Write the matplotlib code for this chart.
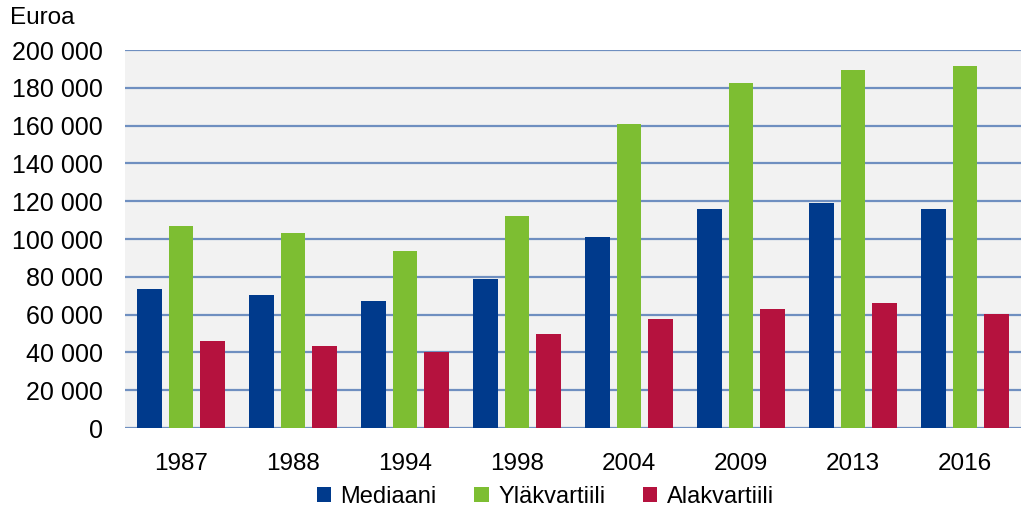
import matplotlib
matplotlib.use("Agg")
import matplotlib.pyplot as plt
import numpy as np

years = ["1987", "1988", "1994", "1998", "2004", "2009", "2013", "2016"]
mediaani = [73500, 70400, 67200, 78800, 101000, 116000, 119000, 116000]
ylakvartiili = [106900, 103000, 93700, 112000, 161000, 182500, 189400, 191500]
alakvartiili = [46000, 43400, 40200, 49700, 57700, 63000, 66000, 60300]
yticks = list(range(0, 200001, 20000))

plt.rcParams['font.family'] = ['Liberation Sans', 'DejaVu Sans']

fig = plt.figure(figsize=(10.21, 5.16), dpi=100)
ax = fig.add_axes([0.1224, 0.1705, 0.8776, 0.7326])
ax.set_facecolor("#F2F2F2")

x = np.arange(len(years))
w = 0.22
off = 0.283
ax.bar(x - off, mediaani, w, color="#003A8C", label="Mediaani", zorder=3)
ax.bar(x, ylakvartiili, w, color="#7DBE32", label="Yläkvartiili", zorder=3)
ax.bar(x + off, alakvartiili, w, color="#B5123E", label="Alakvartiili", zorder=3)

ax.set_xlim(-0.5, len(years) - 0.5)
ax.set_ylim(0, 200000)
ax.set_yticks(yticks)
ax.set_yticklabels([f"{v:,}".replace(",", " ") for v in yticks], fontsize=18)
ax.set_xticks(x)
ax.set_xticklabels(years, fontsize=17.5)
ax.tick_params(axis='x', length=0, pad=18)
ax.tick_params(axis='y', length=0, pad=16)
ax.yaxis.grid(True, color="#6F8FC0", linewidth=1.6, zorder=1)
for s in ax.spines.values():
    s.set_visible(False)

fig.text(0.01, 0.965, "Euroa", fontsize=17.5, va="center", ha="left")

ax.legend(loc="center", bbox_to_anchor=(0.469, -0.182), ncol=3, frameon=False,
          fontsize=17, handlelength=0.6, handleheight=0.6, handletextpad=0.4,
          columnspacing=1.6, borderpad=0.1)

fig.savefig("out.png", dpi=100)
